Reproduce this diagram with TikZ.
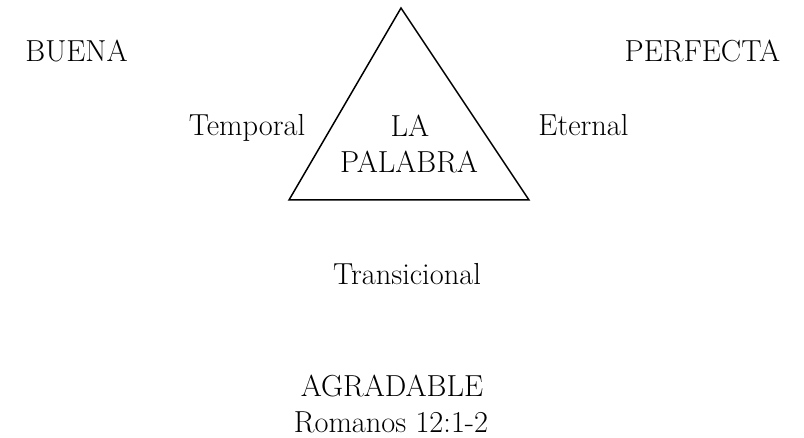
\documentclass[tikz,border=0pt]{standalone}
\usepackage{tikz}
\usetikzlibrary{positioning}

\begin{document}
\begin{tikzpicture}[x=0.5pt,y=-0.5pt,
  palabra/.style={inner sep=0pt, anchor=base, font=\fontsize{15.2}{18}\selectfont}]
\useasboundingbox (0,0) rectangle (804,438);
% triangulo
\coordinate (top) at (401,8);
\coordinate (izq) at (289,200);
\coordinate (der) at (529,200);
\draw [line width=0.75pt, line join=miter] (top) -- (izq) -- (der) -- cycle;
\node [palabra] (la) at (410,137) {LA};
\node [palabra] (pal) at (409,173) {PALABRA};

\node [palabra] (buena) at (76.5,62) {BUENA};
\node [palabra] (perfecta) at (702.5,62) {PERFECTA};
\node [palabra] (temporal) at (247,136) {Temporal};
\node [palabra] (eterna) at (583.5,136) {Eternal};
\node [palabra] (trans) at (407,285) {Transicional};
\node [palabra] (agradable) at (392,397) {AGRADABLE};
\node [palabra] (romanos) at (391,433) {Romanos 12:1-2};

\end{tikzpicture}
\end{document}
